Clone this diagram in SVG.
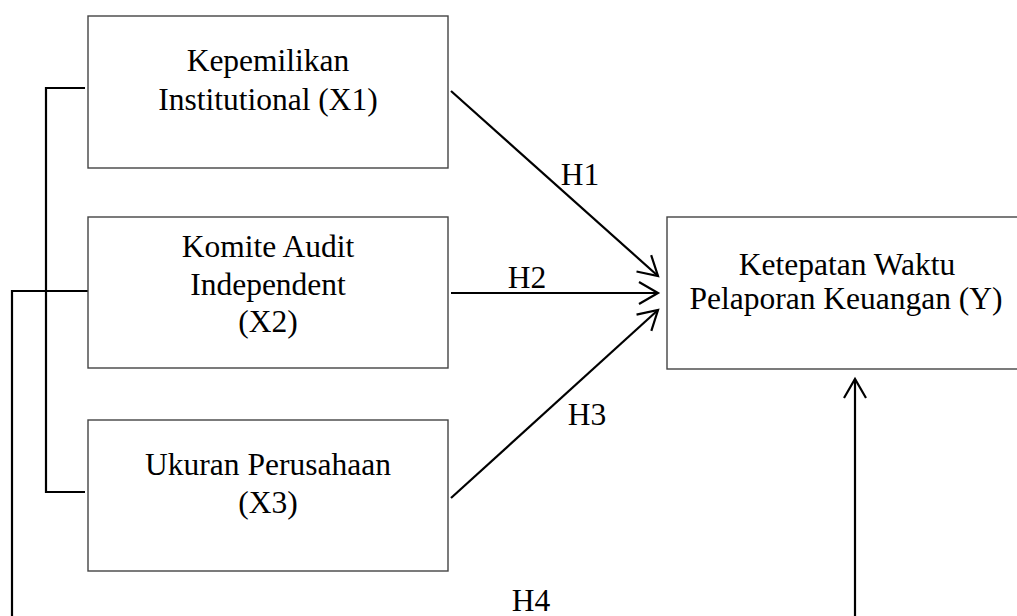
<svg xmlns="http://www.w3.org/2000/svg" width="1017" height="616" viewBox="0 0 1017 616">
  <style>
    .box { fill: #fff; stroke: #444; stroke-width: 1.4; }
    .lbl { font-family: "Liberation Serif", "Times New Roman", serif; font-size: 31.5px; fill: #000; text-anchor: middle; }
    .con { fill: none; stroke: #000; stroke-width: 2.2; }
  </style>
  <defs>
    <marker id="arr" viewBox="-24 -14 27 28" markerWidth="27" markerHeight="28" refX="0" refY="0" orient="auto" markerUnits="userSpaceOnUse">
      <path d="M-19,-11 L0,0 L-19,11" fill="none" stroke="#000" stroke-width="2.2"/>
    </marker>
  </defs>
  <rect width="1017" height="616" fill="#fff"/>

  <g id="connectors">
    <polyline class="con" points="85,88 46,88 46,492 85,492"/>
    <polyline class="con" points="88,291 12,291 12,620"/>
    <line class="con" x1="451" y1="91" x2="658" y2="276" marker-end="url(#arr)"/>
    <line class="con" x1="451" y1="293" x2="658" y2="293" marker-end="url(#arr)"/>
    <line class="con" x1="451" y1="498" x2="658" y2="310" marker-end="url(#arr)"/>
    <line class="con" x1="855" y1="620" x2="855" y2="379" marker-end="url(#arr)"/>
    <text class="lbl" x="580" y="185">H1</text>
    <text class="lbl" x="527" y="288">H2</text>
    <text class="lbl" x="587" y="425">H3</text>
    <text class="lbl" x="531" y="611">H4</text>
  </g>

  <g id="x1">
    <rect class="box" x="88" y="16" width="360" height="152"/>
    <text class="lbl" x="268" y="71">Kepemilikan</text>
    <text class="lbl" x="268" y="110">Institutional (X1)</text>
  </g>
  <g id="x2">
    <rect class="box" x="88" y="217" width="360" height="151"/>
    <text class="lbl" x="268" y="257">Komite Audit</text>
    <text class="lbl" x="268" y="295">Independent</text>
    <text class="lbl" x="268" y="332">(X2)</text>
  </g>
  <g id="x3">
    <rect class="box" x="88" y="420" width="360" height="151"/>
    <text class="lbl" x="268" y="475">Ukuran Perusahaan</text>
    <text class="lbl" x="268" y="513">(X3)</text>
  </g>
  <g id="y">
    <rect class="box" x="667" y="217" width="380" height="152"/>
    <text class="lbl" x="847" y="275">Ketepatan Waktu</text>
    <text class="lbl" x="846" y="309">Pelaporan Keuangan (Y)</text>
  </g>
</svg>
